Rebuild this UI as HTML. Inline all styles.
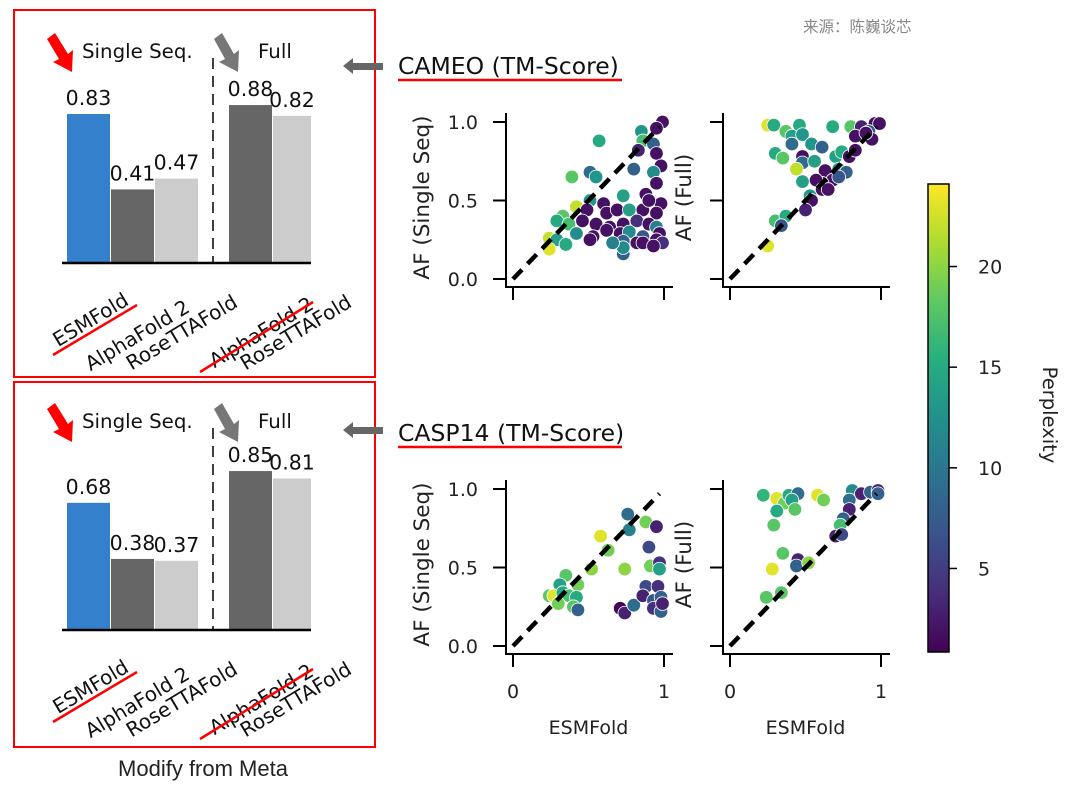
<!DOCTYPE html>
<html><head><meta charset="utf-8"><style>
html,body{margin:0;padding:0;background:#fff;}
svg{display:block;font-family:"DejaVu Sans","Liberation Sans",sans-serif;}
</style></head><body>
<svg id="fig" width="1080" height="798" viewBox="0 0 1080 798" xmlns="http://www.w3.org/2000/svg">
<defs>
<linearGradient id="vir" x1="0" y1="1" x2="0" y2="0">
<stop offset="0" stop-color="#440154"/><stop offset="0.125" stop-color="#472d7b"/><stop offset="0.25" stop-color="#3b528b"/><stop offset="0.375" stop-color="#2c728e"/><stop offset="0.5" stop-color="#21918c"/><stop offset="0.625" stop-color="#28ae80"/><stop offset="0.75" stop-color="#5ec962"/><stop offset="0.875" stop-color="#addc30"/><stop offset="1" stop-color="#fde725"/>
</linearGradient>
</defs>
<text x="803" y="32" font-size="15.5" fill="#888" font-family="Liberation Sans, Noto Sans CJK SC, sans-serif">来源：陈巍谈芯</text>
<rect x="14" y="10" width="361" height="367" fill="none" stroke="#f00" stroke-width="2"/>
<rect x="14" y="382" width="361" height="365" fill="none" stroke="#f00" stroke-width="2"/>
<text x="203" y="776" font-size="22" text-anchor="middle" fill="#222" font-family="Liberation Sans, sans-serif">Modify from Meta</text>
<g id="bars"></g>
<g id="titles">
<text x="398" y="74" font-size="23.5" fill="#111">CAMEO (TM-Score)</text>
<line x1="398" y1="80" x2="622" y2="80" stroke="#f00" stroke-width="2.5"/>
<text x="398" y="441" font-size="23.5" fill="#111">CASP14 (TM-Score)</text>
<line x1="398" y1="447" x2="622" y2="447" stroke="#f00" stroke-width="2.5"/>
<polygon points="343,66 353,58 353,63 383,63 383,70 353,70 353,74" fill="#666"/>
<polygon points="343,430 353,422 353,427 383,427 383,434 353,434 353,438" fill="#666"/>
</g>
<g id="scatters"></g>
<g id="cbar">
<rect x="928" y="184" width="21" height="468" fill="url(#vir)" stroke="#000" stroke-width="1.5"/>
<text transform="translate(1043,415) rotate(90)" font-size="19.5" text-anchor="middle" fill="#222">Perplexity</text>
</g>
</svg>
<script>
// ---- bar data ----
const barCategories = ["ESMFold","AlphaFold 2","RoseTTAFold","AlphaFold 2","RoseTTAFold"];
const barGroups = ["single","single","single","full","full"];
const cameoValues = [0.83,0.41,0.47,0.88,0.82];
const caspValues = [0.68,0.38,0.37,0.85,0.81];
const cameoLabels = ["0.83","0.41","0.47","0.88","0.82"];
const caspLabels = ["0.68","0.38","0.37","0.85","0.81"];

// ---- scatter data (x = ESMFold TM, y = AF TM, p = perplexity) ----
const cameoSingleX = [.57,.99,.85,.95,.86,.93,.83,.95,.98,.80,.93,.95,.51,.39,.55,.73,.88,.98,.42,.51,.60,.49,.62,.69,.77,.86,.95,.33,.29,.37,.46,.55,.64,.73,.82,.90,.95,.42,.53,.62,.71,.77,.86,.97,.24,.29,.35,.24,.73,.82,.86,.95,.99,.73,.93,.73,.66,.51,.90];
const cameoSingleY = [.88,1.0,.94,.96,.88,.86,.82,.80,.72,.70,.68,.61,.68,.65,.65,.53,.54,.48,.46,.50,.48,.44,.42,.44,.44,.44,.42,.40,.37,.35,.37,.35,.33,.35,.37,.35,.33,.29,.27,.31,.29,.30,.27,.29,.26,.25,.22,.19,.24,.23,.23,.25,.23,.16,.21,.20,.23,.25,.50];
const cameoSingleP = [15,2,13,2,17,8,3,2,2,8,12,2,9,18,13,14,2,2,22,13,2,2,2,2,14,2,2,18,15,17,2,2,2,2,4,2,11,12,2,2,2,12,7,2,22,14,15,23,8,2,2,2,4,8,2,12,11,2,2];
const cameoFullX = [.25,.29,.37,.46,.68,.80,.87,.96,.99,.92,.41,.48,.41,.54,.61,.83,.94,.30,.35,.48,.48,.56,.44,.70,.74,.79,.83,.72,.77,.63,.68,.61,.72,.48,.57,.61,.53,.54,.50,.30,.37,.34,.25,.65,.90];
const cameoFullY = [.98,.98,.94,.98,.97,.97,.97,.99,.99,.94,.91,.92,.86,.86,.84,.91,.89,.80,.77,.78,.74,.75,.70,.78,.81,.78,.82,.70,.68,.69,.63,.61,.65,.62,.63,.57,.53,.50,.44,.37,.40,.34,.21,.57,.93];
const cameoFullP = [23,15,18,15,15,18,3,2,2,7,14,13,9,13,8,2,2,15,18,2,9,14,22,14,15,2,2,13,8,2,2,2,7,14,2,2,13,2,3,17,15,7,23,2,2];
const caspSingleX = [.76,.77,.88,.95,.58,.63,.90,.52,.74,.91,.97,.97,.35,.31,.43,.24,.27,.33,.37,.42,.30,.40,.43,.71,.74,.80,.88,.96,.86,.93,.98,.93,.98,.99];
const caspSingleY = [.84,.74,.79,.76,.70,.61,.63,.49,.49,.51,.53,.49,.45,.39,.39,.32,.32,.34,.32,.31,.27,.25,.23,.24,.21,.26,.38,.38,.32,.29,.31,.24,.22,.27];
const caspSingleP = [9,11,19,3,23,19,6,20,20,19,4,14,18,14,19,18,23,15,17,15,19,18,8,1,3,9,6,4,3,7,8,4,8,3];
const caspFullX = [.22,.31,.36,.39,.45,.41,.43,.31,.58,.62,.29,.81,.79,.87,.93,.98,.98,.79,.75,.73,.70,.74,.35,.45,.44,.52,.28,.24,.34];
const caspFullY = [.96,.94,.91,.96,.97,.93,.87,.86,.96,.93,.77,.99,.93,.97,.98,.99,.97,.87,.81,.77,.70,.71,.59,.55,.51,.53,.49,.31,.34];
const caspFullP = [16,23,19,15,9,14,18,15,23,19,18,12,9,3,8,3,8,3,8,17,3,6,18,3,8,20,23,18,18];

const yTicks = [0,0.5,1.0];
const yTickLabels = ["0.0","0.5","1.0"];
const xTicks = [0,1];
const xTickLabels = ["0","1"];
const cbarTicks = [5,10,15,20];
const cbarTickLabels = ["5","10","15","20"];
const cbarMin = 0.85, cbarMax = 24.1;

const NS = "http://www.w3.org/2000/svg";
function mk(tag, attrs, parent, txt){
  const e = document.createElementNS(NS, tag);
  for (const k in attrs) e.setAttribute(k, attrs[k]);
  if (txt !== undefined) e.textContent = txt;
  parent.appendChild(e);
  return e;
}
const vir = ["#440154","#472d7b","#3b528b","#2c728e","#21918c","#28ae80","#5ec962","#addc30","#fde725"];
function hex(h){return [parseInt(h.substr(1,2),16),parseInt(h.substr(3,2),16),parseInt(h.substr(5,2),16)];}
function viridis(t){
  t = Math.max(0, Math.min(1, t));
  const f = t*(vir.length-1), i = Math.min(Math.floor(f), vir.length-2), u = f-i;
  const a = hex(vir[i]), b = hex(vir[i+1]);
  return "rgb(" + a.map((v,k)=>Math.round(v+(b[k]-v)*u)).join(",") + ")";
}

// ---- bar panels ----
const barsG = document.getElementById('bars');
const barLeft = [67,111,155,229,273];
const barW = [43,43,43,43,38];
const barFill = ["#3580cc","#666666","#cccccc","#666666","#cccccc"];
const labelEnd = [[130,41],[191,48],[239,43],[315,45],[353,43]];
function barPanel(prefix, baseline, scale, values, labels, top){
  const g = mk('g', {}, barsG);
  
  
  values.forEach((v,i)=>{
    const h = v*scale;
    const r = mk('rect', {x:barLeft[i], y:baseline-h, width:barW[i], height:h, fill:barFill[i]}, g);
    
    
    const t = mk('text', {x:barLeft[i]+barW[i]/2, y:baseline-h-9, 'font-size':20.5, 'text-anchor':'middle', fill:'#111'}, g, labels[i]);
    
    
    const ex = labelEnd[i][0], ey = baseline + labelEnd[i][1];
    const c = mk('text', {x:ex, y:ey, 'font-size':20, 'text-anchor':'end', fill:'#111', transform:'rotate(-31 '+ex+' '+ey+')'}, g, barCategories[i]);
    
    
  });
  const base = mk('line', {x1:62, y1:baseline, x2:311, y2:baseline, stroke:'#000', 'stroke-width':2.5}, g);
  
  
  const sep = mk('line', {x1:213, y1:top+48, x2:213, y2:baseline, stroke:'#000', 'stroke-width':1.5, 'stroke-dasharray':'11,7'}, g);
  
  
  const u1 = mk('line', {x1:53, y1:baseline+92, x2:137, y2:baseline+42, stroke:'#f00', 'stroke-width':2.5}, g);
  
  
  const u2 = mk('line', {x1:200, y1:baseline+109, x2:313, y2:baseline+39, stroke:'#f00', 'stroke-width':2.5}, g);
  
  
  const s = mk('text', {x:82, y:top+48, 'font-size':19.8, fill:'#111'}, g, 'Single Seq.');
  
  
  const f = mk('text', {x:258, y:top+48, 'font-size':19.8, fill:'#111'}, g, 'Full');
  
  
  const a1 = mk('polygon', {points:[[47,top+29],[55,top+23],[68,top+44],[73,top+40],[72,top+62],[53,top+52],[59,top+49]].map(p=>p.join(',')).join(' '), fill:'#f00'}, g);
  
  
  const a2 = mk('polygon', {points:[[214,top+29],[222,top+23],[234,top+44],[239,top+40],[238,top+62],[219,top+52],[225,top+49]].map(p=>p.join(',')).join(' '), fill:'#777'}, g);
  
  
}
barPanel('cameo', 263, 179.5, cameoValues, cameoLabels, 10);
barPanel('casp14', 630, 187, caspValues, caspLabels, 380);

// ---- scatter panels ----
const sg = document.getElementById('scatters');
function scatter(name, x0, yTop, xs, ys, ps, ylabel, showX){
  const px0 = x0 + 7, px1 = px0 + 151;   // x=0 and x=1
  const py0 = yTop + 166, py1 = yTop + 9; // y=0 and y=1
  const sx = v => px0 + (px1-px0)*v;
  const sy = v => py0 + (py1-py0)*v;
  const single = ylabel.indexOf('Single') >= 0;
  const g = mk('g', {}, sg);
  
  
  const bottom = yTop + 174;
  const ya = mk('line', {x1:x0, y1:yTop, x2:x0, y2:bottom, stroke:'#000', 'stroke-width':2}, g);
  
  
  const xa = mk('line', {x1:x0-1, y1:bottom, x2:x0+167, y2:bottom, stroke:'#000', 'stroke-width':2}, g);
  
  
  yTicks.forEach((t,i)=>{
    const tl = mk('line', {x1:x0-13, y1:sy(t), x2:x0, y2:sy(t), stroke:'#000', 'stroke-width':2}, g);
    
    
    if (single) {
      const tt = mk('text', {x:x0-28, y:sy(t)+7, 'font-size':19, 'text-anchor':'end', fill:'#222'}, g, yTickLabels[i]);
      
      
    }
  });
  xTicks.forEach((t,i)=>{
    const tl = mk('line', {x1:sx(t), y1:bottom, x2:sx(t), y2:bottom+13, stroke:'#000', 'stroke-width':2}, g);
    
    
    if (showX) {
      const tt = mk('text', {x:sx(t), y:bottom+44, 'font-size':19, 'text-anchor':'middle', fill:'#222'}, g, xTickLabels[i]);
      
      
    }
  });
  if (showX) {
    const xl = mk('text', {x:(px0+px1)/2, y:bottom+80, 'font-size':19, 'text-anchor':'middle', fill:'#222'}, g, 'ESMFold');
    
    
  }
  const lx = single ? x0-77 : x0-32;
  const cy = (py0+py1)/2 - 3;
  const yl = mk('text', {transform:'translate('+lx+','+cy+') rotate(-90)', 'font-size':21.5, 'text-anchor':'middle', fill:'#222'}, g, ylabel);
  
  
  xs.forEach((v,i)=>{
    const c = mk('circle', {cx:sx(v), cy:sy(ys[i]), r:6.8, fill:viridis((ps[i]-cbarMin)/(cbarMax-cbarMin)), stroke:'#fff', 'stroke-width':0.8}, g);
    
    
  });
  const d = mk('line', {x1:sx(0), y1:sy(0), x2:sx(0.97), y2:sy(0.97), stroke:'#000', 'stroke-width':4.5, 'stroke-dasharray':'13,8'}, g);
  
  
}
scatter('cameo-single', 506, 113, cameoSingleX, cameoSingleY, cameoSingleP, 'AF (Single Seq)', false);
scatter('cameo-full', 723, 113, cameoFullX, cameoFullY, cameoFullP, 'AF (Full)', false);
scatter('casp14-single', 506, 480, caspSingleX, caspSingleY, caspSingleP, 'AF (Single Seq)', true);
scatter('casp14-full', 723, 480, caspFullX, caspFullY, caspFullP, 'AF (Full)', true);

// ---- colorbar ticks ----
const cb = document.getElementById('cbar');
const cy = v => 652 - (v-cbarMin)/(cbarMax-cbarMin)*468;
cbarTicks.forEach((t,i)=>{
  const l = mk('line', {x1:949, y1:cy(t), x2:957, y2:cy(t), stroke:'#000', 'stroke-width':1.5}, cb);
  
  
  const tx = mk('text', {x:978, y:cy(t)+7, 'font-size':19, fill:'#222'}, cb, cbarTickLabels[i]);
  
  
});
</script>
</body></html>
